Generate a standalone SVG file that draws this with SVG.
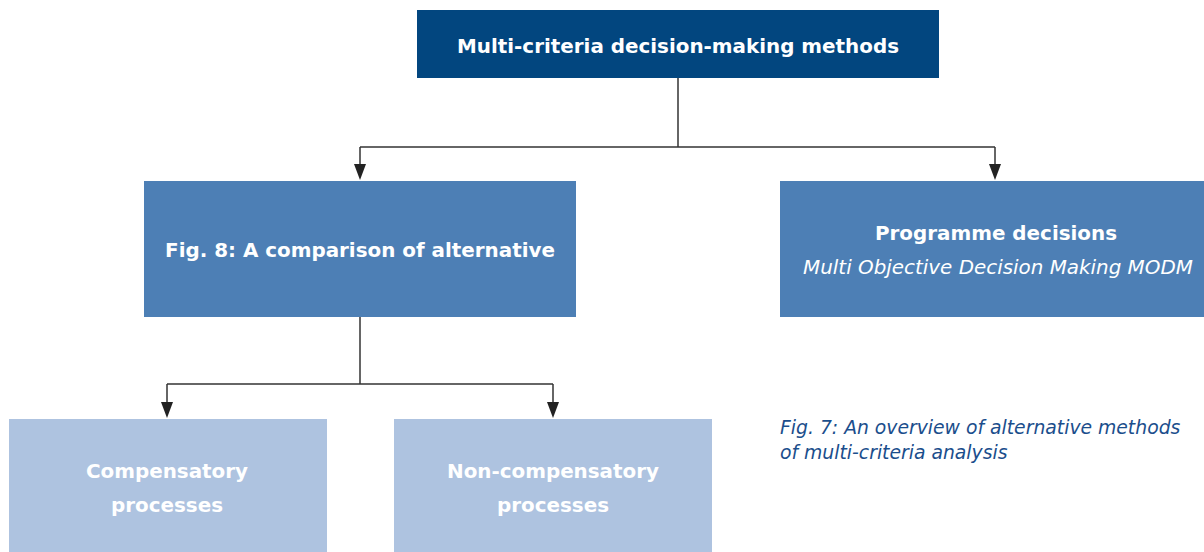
<svg xmlns="http://www.w3.org/2000/svg" width="1204" height="552" viewBox="0 0 1204 552">
<style>
.t{font-family:"DejaVu Sans",Verdana,sans-serif;font-size:19.9px;font-weight:bold;fill:#fff;text-anchor:middle}
.i{font-family:"DejaVu Sans",Verdana,sans-serif;font-size:19.9px;font-style:italic;fill:#fff;text-anchor:middle}
.cap{font-family:"DejaVu Sans",Verdana,sans-serif;font-size:18.8px;font-style:italic;fill:#1b4e8c}
.ln{fill:none;stroke:#333;stroke-width:1.5}
.ah{fill:#222}
</style>
<rect width="1204" height="552" fill="#fff"/>
<g id="connectors">
<path class="ln" d="M678,78 V147"/>
<path class="ln" d="M360,147 H995"/>
<path class="ln" d="M360,147 V165"/>
<polygon class="ah" points="354,164 366,164 360,180"/>
<path class="ln" d="M995,147 V165"/>
<polygon class="ah" points="989,164 1001,164 995,180"/>
<path class="ln" d="M360,317 V384"/>
<path class="ln" d="M167,384 H553"/>
<path class="ln" d="M167,384 V403"/>
<polygon class="ah" points="161,402 173,402 167,418"/>
<path class="ln" d="M553,384 V403"/>
<polygon class="ah" points="547,402 559,402 553,418"/>
</g>
<g id="top">
<rect x="417" y="10" width="522" height="68" fill="#02467f"/>
<text class="t" x="678" y="53">Multi-criteria decision-making methods</text>
</g>
<g id="fig8">
<rect x="144" y="181" width="432" height="136" fill="#4d7fb5"/>
<text class="t" x="360" y="257">Fig. 8: A comparison of alternative</text>
</g>
<g id="programme">
<rect x="780" y="181" width="424" height="136" fill="#4d7fb5"/>
<text class="t" x="996" y="240">Programme decisions</text>
<text class="i" x="998" y="274">Multi Objective Decision Making MODM</text>
</g>
<g id="compensatory">
<rect x="9" y="419" width="318" height="133" fill="#aec3e0"/>
<text class="t" x="167" y="478">Compensatory</text>
<text class="t" x="167" y="512">processes</text>
</g>
<g id="noncompensatory">
<rect x="394" y="419" width="318" height="133" fill="#aec3e0"/>
<text class="t" x="553" y="478">Non-compensatory</text>
<text class="t" x="553" y="512">processes</text>
</g>
<g id="caption">
<text class="cap" x="780" y="434">Fig. 7: An overview of alternative methods</text>
<text class="cap" x="780" y="459">of multi-criteria analysis</text>
</g>
</svg>
